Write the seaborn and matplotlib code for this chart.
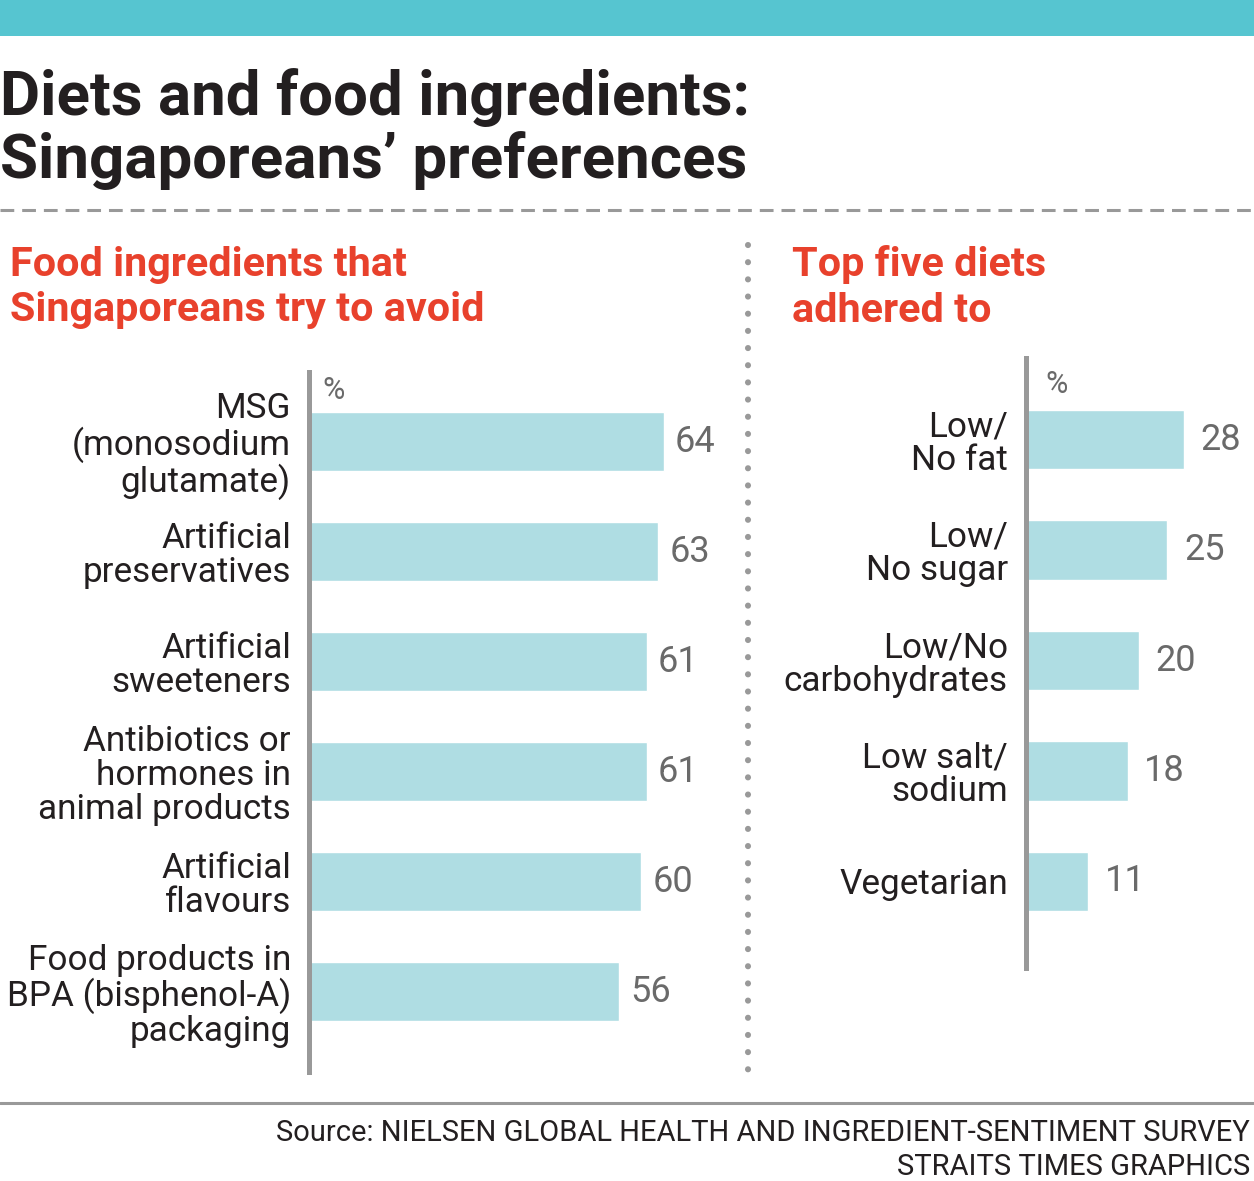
import matplotlib
matplotlib.use("Agg")
import matplotlib.pyplot as plt
from matplotlib.lines import Line2D
from matplotlib.patches import Rectangle
import seaborn as sns
import pandas as pd

# ---------------- data ----------------
avoid_labels = [
    "MSG\n(monosodium\nglutamate)",
    "Artificial\npreservatives",
    "Artificial\nsweeteners",
    "Antibiotics or\nhormones in\nanimal products",
    "Artificial\nflavours",
    "Food products in\nBPA (bisphenol-A)\npackaging",
]
avoid_values = [64, 63, 61, 61, 60, 56]

diet_labels = [
    "Low/\nNo fat",
    "Low/\nNo sugar",
    "Low/No\ncarbohydrates",
    "Low salt/\nsodium",
    "Vegetarian",
]
diet_values = [28, 25, 20, 18, 11]

title_lines = ["Diets and food ingredients:", "Singaporeans\u2019 preferences"]
left_sub = ["Food ingredients that", "Singaporeans try to avoid"]
right_sub = ["Top five diets", "adhered to"]
source_lines = ["Source: NIELSEN GLOBAL HEALTH AND INGREDIENT-SENTIMENT SURVEY",
                "STRAITS TIMES GRAPHICS"]

# ---------------- style ----------------
sns.set_theme(style="white")
plt.rcParams["font.family"] = ["Roboto", "DejaVu Sans"]

W, H = 1254, 1181
fig = plt.figure(figsize=(W / 100, H / 100), dpi=100)

BAR = "#AFDDE3"
TEAL = "#56C5D0"
RED = "#E8412C"
DARK = "#231F20"
GREY = "#999999"
VAL = "#6A6A6A"


def fx(x):
    return x / W


def fy(y):
    return 1 - y / H


# top band
fig.add_artist(Rectangle((0, fy(36)), 1, 36 / H, transform=fig.transFigure,
                         color=TEAL, lw=0))

# title
fig.text(fx(0), fy(115), title_lines[0], fontsize=44.5, fontweight="bold",
         color=DARK, ha="left", va="baseline")
fig.text(fx(0), fy(178), title_lines[1], fontsize=44.5, fontweight="bold",
         color=DARK, ha="left", va="baseline")

# dashed separator
fig.add_artist(Line2D([0, 1], [fy(210), fy(210)], transform=fig.transFigure,
                      color=GREY, lw=2.2, dashes=(4.5, 2.6)))

# subtitles
for i, t in enumerate(left_sub):
    fig.text(fx(10), fy(276 + 45 * i), t, fontsize=29.8, fontweight="bold",
             color=RED, ha="left", va="baseline")
for i, t in enumerate(right_sub):
    fig.text(fx(792), fy(276 + 46 * i), t, fontsize=29.8, fontweight="bold",
             color=RED, ha="left", va="baseline")

# dotted vertical divider
fig.add_artist(Line2D([fx(748), fx(748)], [fy(245), fy(1073)],
                      transform=fig.transFigure, color=GREY, lw=4.4,
                      dashes=(0.01, 2.8), dash_capstyle="round"))

# footer line
fig.add_artist(Line2D([0, 1], [fy(1103), fy(1103)], transform=fig.transFigure,
                      color=GREY, lw=2.2))
fig.text(fx(1250), fy(1141), source_lines[0], fontsize=21,
         color=DARK, ha="right", va="baseline")
fig.text(fx(1250), fy(1175), source_lines[1], fontsize=21,
         color=DARK, ha="right", va="baseline")


def make_panel(rect, labels, values, xmax, ylim, pad_val, pct_xy):
    ax = fig.add_axes(rect)
    df = pd.DataFrame({"label": labels, "value": values})
    sns.barplot(data=df, x="value", y="label", orient="h", color=BAR,
                width=0.54, saturation=1, ax=ax)
    ax.set_xlim(0, xmax)
    ax.set_ylim(*ylim)
    ax.set_xlabel("")
    ax.set_ylabel("")
    ax.set_xticks([])
    for s in ["top", "right", "bottom"]:
        ax.spines[s].set_visible(False)
    ax.spines["left"].set_color(GREY)
    ax.spines["left"].set_linewidth(3.6)
    ax.tick_params(axis="y", length=0, pad=13, labelsize=25.3, labelcolor=DARK)
    for t in ax.get_yticklabels():
        t.set_linespacing(1.03)
    ax.bar_label(ax.containers[0], fmt="%d", padding=pad_val, fontsize=26,
                 color=VAL)
    ax.patch.set_alpha(0)
    fig.text(fx(pct_xy[0]), fy(pct_xy[1]), "%", fontsize=22, color=VAL,
             ha="left", va="baseline")
    return ax


make_panel([fx(309), fy(1072), fx(740 - 309), (1072 - 372) / H],
           avoid_labels, avoid_values, 431 / 5.54, (5.73, -0.632), 8, (322, 399))
make_panel([fx(1026), fy(968), fx(1254 - 1026), (968 - 358) / H],
           diet_labels, diet_values, 228 / 5.65, (4.783, -0.738), 12, (1045, 393))

fig.savefig("out.png", dpi=100)
